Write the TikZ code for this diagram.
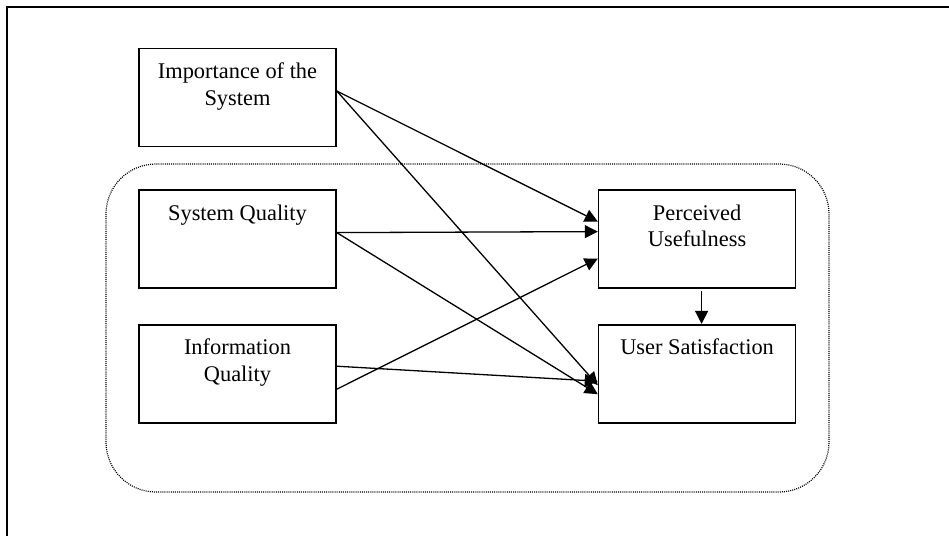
\documentclass[tikz,border=0pt]{standalone}
\usepackage{fontspec}
\setmainfont{Liberation Serif}
\usepackage{tikz}
\usetikzlibrary{arrows.meta,positioning}
\newcommand{\boxtxt}[1]{\parbox[c][49pt][t]{98pt}{\centering\rule{0pt}{15pt}#1}}
\tikzset{
  factor/.style={draw,line width=0.8pt,minimum width=98.5pt,minimum height=49pt,
    inner sep=0pt,font=\fontsize{11.2}{13.25}\selectfont},
  link/.style={-{Triangle[length=6.5pt,width=6.5pt]},line width=0.65pt},
  group/.style={line width=0.6pt,dash pattern=on 0.5pt off 0.55pt,rounded corners=25pt}
}
\begin{document}
\begin{tikzpicture}[x=0.5pt,y=-0.5pt]
\useasboundingbox (0,0) rectangle (949,536);
\clip (0,0) rectangle (949,536);
\draw[line width=0.65pt] (7,7) rectangle (970,560);
\draw[group] (106,164) rectangle (829,492);
\node[factor] (imp) at (237.5,97.5) {\boxtxt{Importance of the\\System}};
\node[factor,below=21pt of imp] (sq) {\boxtxt{System Quality}};
\node[factor,below=17.5pt of sq] (iq) {\boxtxt{Information\\Quality}};
\node[factor,right=130.5pt of sq] (pu) {\boxtxt{Perceived\\Usefulness}};
\node[factor,below=17.5pt of pu] (us) {\boxtxt{User Satisfaction}};
\draw[link] ([yshift=3.25pt]imp.east) -- ([yshift=8.75pt]pu.west);
\draw[link] ([yshift=3.25pt]imp.east) -- ([yshift=-5.75pt]us.west);
\draw[link] ([yshift=3.25pt]sq.east) -- ([yshift=3.75pt]pu.west);
\draw[link] ([yshift=3.25pt]sq.east) -- ([yshift=-10.25pt]us.west);
\draw[link] ([yshift=-7.75pt]iq.east) -- ([yshift=-9.75pt]pu.west);
\draw[link] ([yshift=3.75pt]iq.east) -- ([yshift=-3.75pt]us.west);
\draw[link] ([xshift=2.25pt,yshift=-1pt]pu.south) -- ([xshift=2.25pt]us.north);
\end{tikzpicture}
\end{document}
